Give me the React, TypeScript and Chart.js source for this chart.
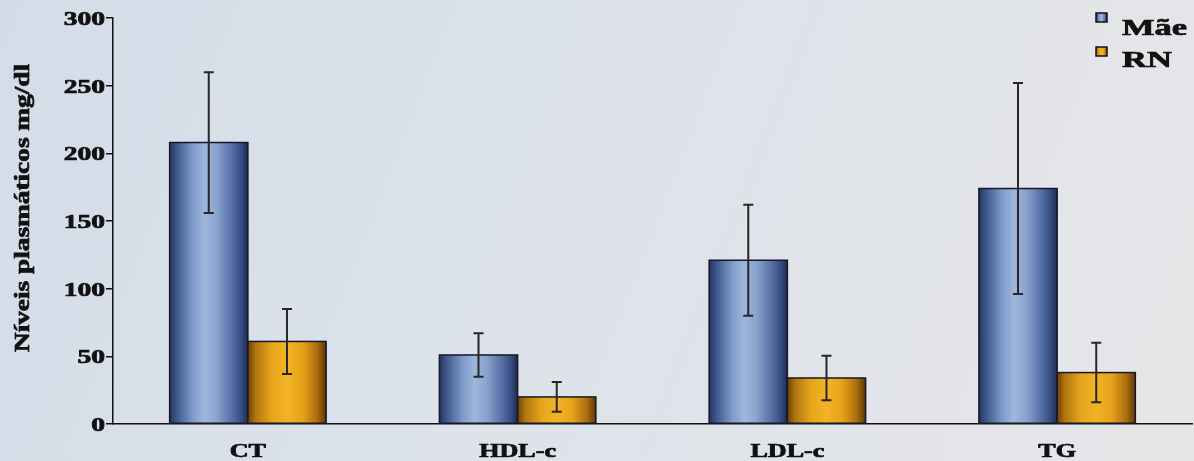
import React, { useEffect, useRef } from "react";
import { Chart, registerables } from "chart.js";

Chart.register(...registerables);

const categories = ["CT", "HDL-c", "LDL-c", "TG"];
const seriesLabels = ["Mãe", "RN"];
const maeValues = [208, 51, 121, 174];
const maeErrors = [52, 16, 41, 78];
const rnValues = [61, 20, 34, 38];
const rnErrors = [24, 11, 16.5, 22];
const yMin = 0;
const yMax = 300;
const yStep = 50;
const yTitle = "Níveis plasmáticos mg/dl";

const errorSets = [maeErrors, rnErrors];

const blueStops: [number, string][] = [
  [0, "#26345f"],
  [0.1, "#415a8e"],
  [0.3, "#7f9ccb"],
  [0.45, "#9db7dc"],
  [0.6, "#8aa3cf"],
  [0.8, "#566fa5"],
  [0.93, "#33477b"],
  [1, "#1f2a50"],
];
const orangeStops: [number, string][] = [
  [0, "#6e4206"],
  [0.1, "#b07610"],
  [0.3, "#e6a41c"],
  [0.5, "#f2b425"],
  [0.7, "#e6a218"],
  [0.88, "#ae6f0f"],
  [1, "#5f3704"],
];
const stopSets = [blueStops, orangeStops];

const SERIF = "'Liberation Serif', 'Times New Roman', serif";
const TEXT = "#111";

function makeGrad(ctx: CanvasRenderingContext2D, left: number, width: number, stops: [number, string][]) {
  const g = ctx.createLinearGradient(left, 0, left + width, 0);
  stops.forEach(([o, c]) => g.addColorStop(o, c));
  return g;
}

function stretchedText(
  ctx: CanvasRenderingContext2D,
  text: string,
  x: number,
  y: number,
  size: number,
  sx: number,
  align: CanvasTextAlign,
  rotate = 0
) {
  ctx.save();
  ctx.translate(x, y);
  if (rotate) ctx.rotate(rotate);
  ctx.scale(sx, 1);
  ctx.font = `bold ${size}px ${SERIF}`;
  ctx.fillStyle = TEXT;
  ctx.strokeStyle = TEXT;
  ctx.lineWidth = 0.7;
  ctx.lineJoin = "round";
  ctx.textAlign = align;
  ctx.textBaseline = "alphabetic";
  ctx.fillText(text, 0, 0);
  ctx.strokeText(text, 0, 0);
  ctx.restore();
}

const backgroundPlugin = {
  id: "paperBg",
  beforeDraw(chart: any) {
    const { ctx, width, height } = chart;
    ctx.save();
    const g = ctx.createLinearGradient(0, 0, width, height);
    g.addColorStop(0, "#d3dce8");
    g.addColorStop(0.4, "#dce2ea");
    g.addColorStop(1, "#e6e6e8");
    ctx.fillStyle = g;
    ctx.fillRect(0, 0, width, height);
    ctx.restore();
  },
};

const barStylePlugin = {
  id: "barStyle",
  afterDatasetsDraw(chart: any) {
    const ctx: CanvasRenderingContext2D = chart.ctx;
    const yScale = chart.scales.y;
    ctx.save();
    chart.data.datasets.forEach((ds: any, di: number) => {
      const meta = chart.getDatasetMeta(di);
      meta.data.forEach((bar: any) => {
        const { x, y, base, width } = bar.getProps(["x", "y", "base", "width"], true);
        const left = x - width / 2;
        ctx.fillStyle = makeGrad(ctx, left, width, stopSets[di]);
        ctx.fillRect(left, y, width, base - y);
        ctx.strokeStyle = "#141828";
        ctx.lineWidth = 1.5;
        ctx.strokeRect(left, y, width, base - y);
      });
    });
    chart.data.datasets.forEach((ds: any, di: number) => {
      const meta = chart.getDatasetMeta(di);
      meta.data.forEach((bar: any, i: number) => {
        const v = ds.data[i];
        const e = errorSets[di][i];
        const { x } = bar.getProps(["x"], true);
        const yTop = yScale.getPixelForValue(v + e);
        const yBot = yScale.getPixelForValue(v - e);
        ctx.strokeStyle = "#2a2626";
        ctx.lineWidth = 2;
        ctx.beginPath();
        ctx.moveTo(x, yTop);
        ctx.lineTo(x, yBot);
        ctx.moveTo(x - 5, yTop);
        ctx.lineTo(x + 5, yTop);
        ctx.moveTo(x - 5, yBot);
        ctx.lineTo(x + 5, yBot);
        ctx.stroke();
      });
    });
    ctx.restore();
  },
};

const textPlugin = {
  id: "stretchedLabels",
  afterDraw(chart: any) {
    const ctx: CanvasRenderingContext2D = chart.ctx;
    const xs = chart.scales.x;
    const ys = chart.scales.y;
    ys.ticks.forEach((t: any, i: number) => {
      const py = ys.getPixelForTick(i);
      stretchedText(ctx, String(t.value), ys.right - 8, py + 7, 19, 1.45, "right");
    });
    const labels = chart.data.labels as string[];
    labels.forEach((lab, i) => {
      const px = xs.getPixelForTick(i);
      stretchedText(ctx, lab, px, xs.top + 33, 18, 1.45, "center");
    });
    stretchedText(
      ctx,
      yTitle,
      29,
      (chart.chartArea.top + chart.chartArea.bottom) / 2 - 13,
      21,
      1.3,
      "center",
      -Math.PI / 2
    );
    const right = chart.width;
    const boxX = right - 98;
    const textX = right - 72;
    const rows = [
      { boxY: 13, baseY: 35 },
      { boxY: 47, baseY: 67 },
    ];
    ctx.save();
    seriesLabels.forEach((label, i) => {
      const r = rows[i];
      ctx.fillStyle = makeGrad(ctx, boxX, 11, stopSets[i]);
      ctx.fillRect(boxX, r.boxY, 11, 9);
      ctx.strokeStyle = "#111";
      ctx.lineWidth = 1.5;
      ctx.strokeRect(boxX, r.boxY, 11, 9);
      stretchedText(ctx, label, textX, r.baseY, 23, 1.5, "left");
    });
    ctx.restore();
  },
};

export default function App() {
  const ref = useRef<HTMLCanvasElement | null>(null);

  useEffect(() => {
    if (!ref.current) return;
    const chart = new Chart(ref.current, {
      type: "bar",
      data: {
        labels: categories,
        datasets: [
          {
            label: seriesLabels[0],
            data: maeValues,
            backgroundColor: "#7f9ccb",
            borderWidth: 0,
            categoryPercentage: 0.58,
            barPercentage: 1.0,
          },
          {
            label: seriesLabels[1],
            data: rnValues,
            backgroundColor: "#e8a81e",
            borderWidth: 0,
            categoryPercentage: 0.58,
            barPercentage: 1.0,
          },
        ],
      },
      options: {
        animation: false,
        responsive: false,
        maintainAspectRatio: false,
        layout: { padding: { top: 18, right: 2, left: 0, bottom: 0 } },
        plugins: {
          legend: { display: false },
          tooltip: { enabled: false },
          title: { display: false },
        },
        scales: {
          x: {
            grid: { display: false, drawTicks: false },
            border: { display: true, color: "#111", width: 1.5 },
            ticks: { display: false },
            afterFit: (scale: any) => {
              scale.height = 37;
            },
          },
          y: {
            min: yMin,
            max: yMax,
            grid: {
              drawOnChartArea: false,
              drawTicks: true,
              tickLength: 7,
              tickColor: "#111",
              lineWidth: 1.5,
            },
            border: { display: true, color: "#111", width: 1.5 },
            ticks: { display: false, stepSize: yStep },
            afterFit: (scale: any) => {
              scale.width = 113;
            },
          },
        },
      },
      plugins: [backgroundPlugin, barStylePlugin, textPlugin],
    });
    return () => chart.destroy();
  }, []);

  return (
    <div style={{ position: "absolute", left: 0, top: 0, width: 1194, height: 461 }}>
      <canvas ref={ref} width={1194} height={461} style={{ display: "block" }} />
    </div>
  );
}
